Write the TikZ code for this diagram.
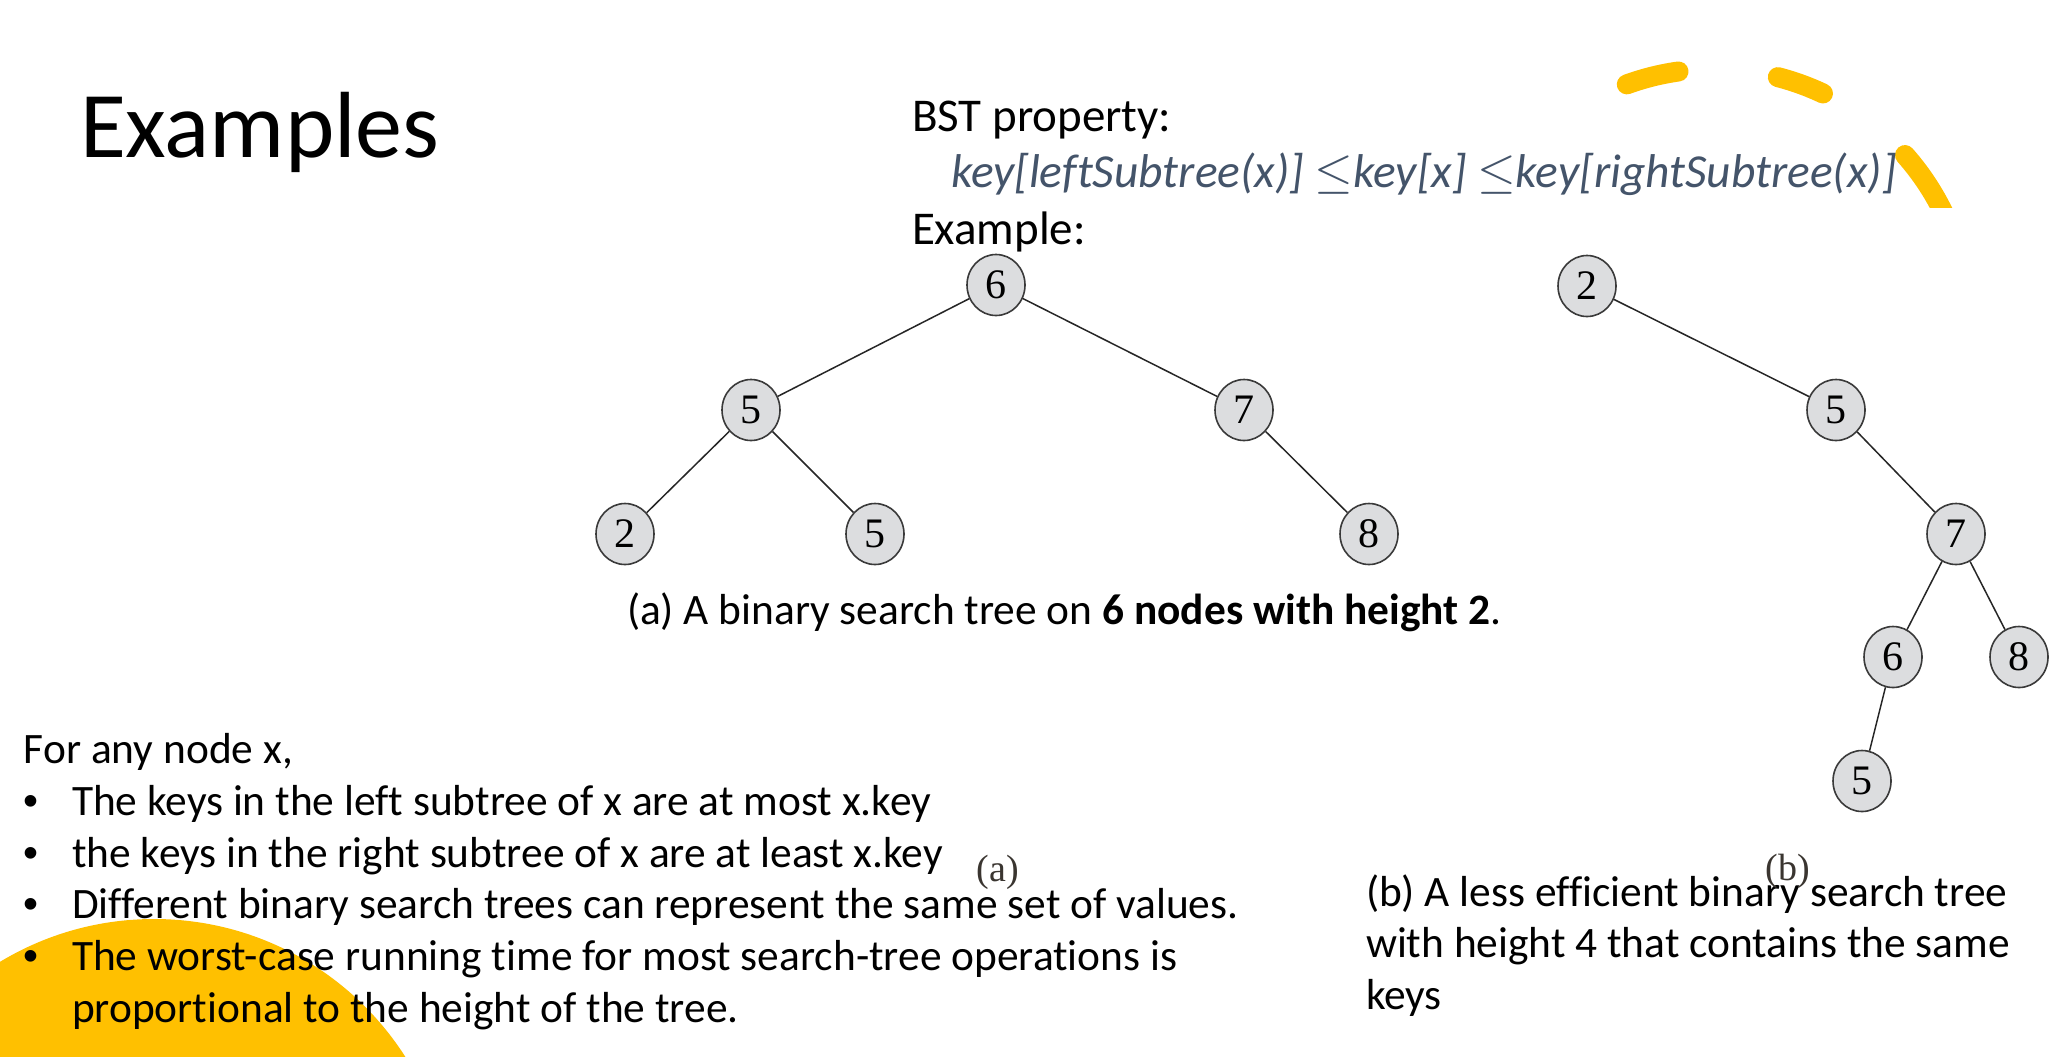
\documentclass[tikz,border=0pt]{standalone}
\usepackage{fontspec}
\setmainfont{Carlito}[Ligatures=CommonOff]
\newfontfamily\serifnum{Liberation Serif}
\newfontfamily\bulletfont{Liberation Sans}
\usetikzlibrary{shapes.geometric}
\definecolor{gold}{HTML}{FFC000}
\definecolor{slate}{HTML}{44546A}
\definecolor{nodefill}{HTML}{DCDDDF}
\definecolor{nodeline}{HTML}{3A3A3A}
\definecolor{sublabel}{HTML}{3A3530}
\newcommand\fsz[1]{\fontsize{#1}{#1}\selectfont}
\begin{document}
\begin{tikzpicture}[x=0.5pt,y=-0.5pt,
  txt/.style={anchor=base west,inner sep=0pt,outer sep=0pt},
  body/.style={txt,font=\fsz{21.7}},
  bul/.style={anchor=base west,inner sep=0pt,outer sep=0pt,font=\bulletfont\fsz{21.4}},
  tn/.style={ellipse,draw=nodeline,fill=nodefill,line width=0.8pt,
    minimum width=29pt,minimum height=30.5pt,inner sep=0pt,
    font=\serifnum\fsz{21}},
  edge/.style={line width=0.75pt,draw=black!85},
  goldarc/.style={draw=gold,line width=10pt,line cap=round}]
\useasboundingbox (0,0) rectangle (2056,1056);
\fill[white] (0,0) rectangle (2056,1056);
% decorative yellow shapes
\begin{scope}
  \clip (0,0) rectangle (2056,1056);
  \fill[gold] (154,1217) circle[radius=298];
\end{scope}
\draw[goldarc] ([shift={(-110:255)}]1714,324) arc[start angle=-110,end angle=-98,radius=255];
\draw[goldarc] ([shift={(-75.5:255)}]1714,324) arc[start angle=-75.5,end angle=-64.7,radius=255];
\begin{scope}
  \clip (1800,0) rectangle (2056,207);
  \draw[goldarc] ([shift={(-41.5:255)}]1714,324) arc[start angle=-41.5,end angle=-22,radius=255];
\end{scope}
% title and property
\node[txt,font=\fsz{47}] (title) at (80,157) {Examples};
\node[txt,font=\fsz{23.5}] (bst) at (912,131) {BST property:};
\node[txt,font=\fsz{23.7}\itshape,text=slate] (prop) at (951,187)
  {key[leftSubtree(x)] $\leq$key[x] $\leq$key[rightSubtree(x)]};
\node[txt,font=\fsz{23.5}] (ex) at (912,244) {Example:};
% tree (a)
\node[tn] (a6) at (996,285) {6};
\node[tn] (a5) at (751,410) {5};
\node[tn] (a7) at (1244,410) {7};
\node[tn] (a2) at (625,534) {2};
\node[tn] (a5b) at (875,534) {5};
\node[tn] (a8) at (1369,534) {8};
\draw[edge] (a6) -- (a5);
\draw[edge] (a6) -- (a7);
\draw[edge] (a5) -- (a2);
\draw[edge] (a5) -- (a5b);
\draw[edge] (a7) -- (a8);
% tree (b)
\node[tn] (b2) at (1587,286) {2};
\node[tn] (b5) at (1836,410) {5};
\node[tn] (b7) at (1956,534) {7};
\node[tn] (b6) at (1893,657) {6};
\node[tn] (b8) at (2019,657) {8};
\node[tn] (b5b) at (1862,781) {5};
\draw[edge] (b2) -- (b5);
\draw[edge] (b5) -- (b7);
\draw[edge] (b7) -- (b6);
\draw[edge] (b7) -- (b8);
\draw[edge] (b6) -- (b5b);
% captions
\node[body] (capa) at (627,624)
  {(a) A binary search tree on \textbf{6 nodes with height 2}.};
\node[body] (capb1) at (1366,906) {(b) A less efficient binary search tree};
\node[body] (capb2) at (1366,957) {with height 4 that contains the same};
\node[body] (capb3) at (1366,1009) {keys};
% bottom-left text
\node[body] (l0) at (24,763) {For any node x,};
\node[bul] (b1) at (24,815) {•};
\node[body] (l1) at (72,815) {The keys in the left subtree of x are at most x.key};
\node[bul] (b2t) at (24,867) {•};
\node[body] (l2) at (72,867) {the keys in the right subtree of x are at least x.key};
\node[bul] (b3) at (24,918) {•};
\node[body] (l3) at (72,918) {Different binary search trees can represent the same set of values.};
\node[bul] (b4) at (24,970) {•};
\node[body] (l4) at (72,970) {The worst-case running time for most search-tree operations is};
\node[body] (l5) at (72,1022) {proportional to the height of the tree.};
% sub-figure labels
\node[inner sep=0pt,font=\serifnum\fsz{19},text=sublabel] (laba) at (998,872) {(a)};
\node[inner sep=0pt,font=\serifnum\fsz{19},text=sublabel] (labb) at (1788,871) {(b)};
\end{tikzpicture}
\end{document}
